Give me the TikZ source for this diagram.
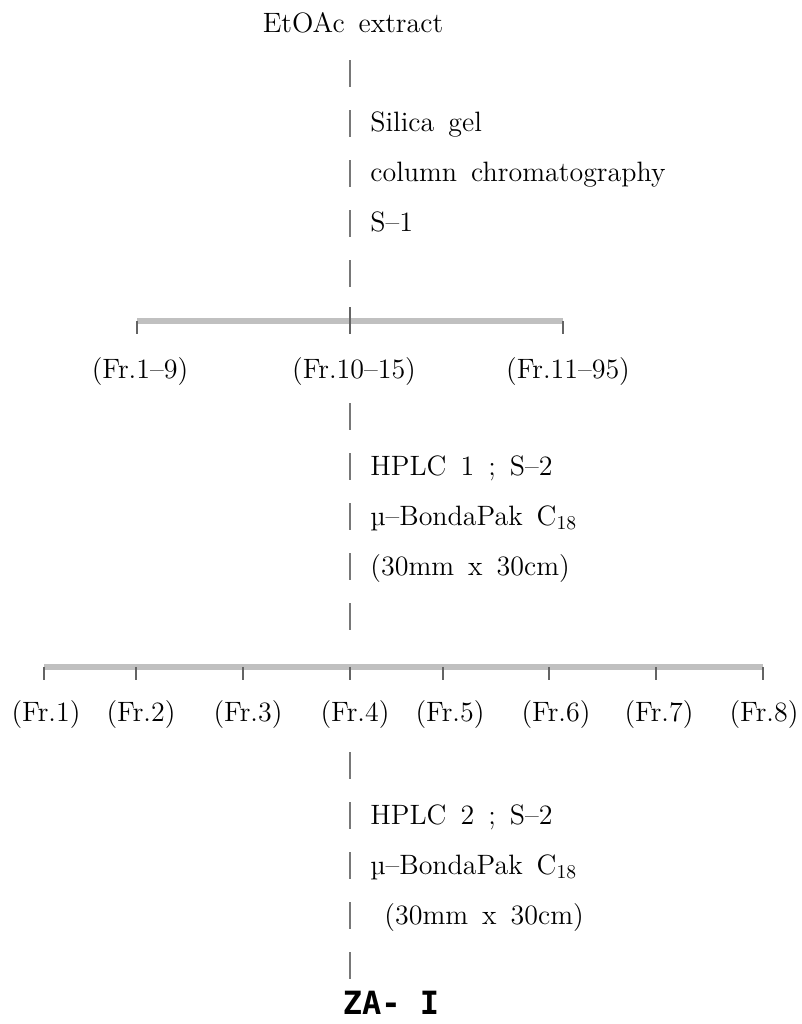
\documentclass[tikz,border=0pt]{standalone}
\usepackage{fontspec}
\usepackage{tikz}
\newfontfamily\zafont{DejaVu Sans Mono}
\definecolor{stemgray}{RGB}{120,120,120}
\definecolor{bargray}{RGB}{192,192,192}
\definecolor{tickgray}{RGB}{100,100,100}
\usetikzlibrary{positioning}
\newcommand{\safont}{\fontsize{14}{16}\selectfont\spaceskip 0.5em plus 0.1em\relax}
\tikzset{
    satext/.style={inner sep=0pt, font=\safont},
    sastep/.style={satext, anchor=base west},
    frlabel/.style={satext},
    sastem/.style={draw=stemgray, line width=1.3pt, dash pattern=on 13.5pt off 11.5pt},
    sabar/.style={draw=bargray, line width=3.2pt},
    satick/.style={draw=tickgray, line width=1.3pt},
    zaresult/.style={inner sep=0pt, font=\zafont\bfseries\fontsize{16}{18}\selectfont}
}

\begin{document}
\begin{tikzpicture}[x=0.5pt, y=-0.5pt]
  \useasboundingbox (0,0) rectangle (802,1024);
  % silica gel step
  \node[satext] (etoac) at (353,23) {EtOAc extract};
  \coordinate (s1top) at (350,60);
  \coordinate (s1end) at (350,287);
  \draw[sastem] (s1top) -- (s1end);
  \node[sastep] (silica) at (370,131) {Silica gel};
  \node[sastep] (column) at (370,181) {column chromatography};
  \node[sastep] (sone)   at (370,231) {S–1};
  % first split
  \coordinate (b1l) at (137,321);
  \coordinate (b1c) at (350,321);
  \coordinate (b1r) at (563,321);
  \draw[sabar] (b1l) -- (b1r);
  \draw[satick] (b1l) -- ++(0,13);
  \draw[satick] (b1r) -- ++(0,13);
  \draw[satick] (350,307) -- ++(0,27);
  \node[frlabel] (fa) at (140,372) {(Fr.1–9)};
  \node[frlabel] (fb) at (354,372) {(Fr.10–15)};
  \node[frlabel] (fc) at (568,372) {(Fr.11–95)};
  % HPLC 1
  \coordinate (s2top) at (350,403);
  \coordinate (s2end) at (350,630);
  \draw[sastem] (s2top) -- (s2end);
  \node[sastep] (hplca) at (370,475) {HPLC 1 ; S–2};
  \node[sastep] (bonda) at (370,525) {µ–BondaPak C\textsubscript{18}};
  \node[sastep] (cola)  at (370,575) {(30mm x 30cm)};
  % second split
  \coordinate (b2l) at (44,667);
  \coordinate (b2r) at (763,667);
  \draw[sabar] (b2l) -- (b2r);
  \foreach \x in {44,136,243,350,443,549,656,763}
    \draw[satick] (\x,667) -- ++(0,13);
  \foreach \x/\n in {46/1,141/2,248/3,355/4,450/5,556/6,659/7,764/8}
    \node[frlabel] (fr\n) at (\x,715) {(Fr.\n)};
  % HPLC 2
  \coordinate (s3top) at (350,752);
  \coordinate (s3end) at (350,979);
  \draw[sastem] (s3top) -- (s3end);
  \node[sastep] (hplcb) at (370,824) {HPLC 2 ; S–2};
  \node[sastep] (bondb) at (370,874) {µ–BondaPak C\textsubscript{18}};
  \node[sastep] (colb)  at (384,924) {(30mm x 30cm)};
  \node[zaresult] (za) at (391,1003) {ZA- I};
\end{tikzpicture}
\end{document}
